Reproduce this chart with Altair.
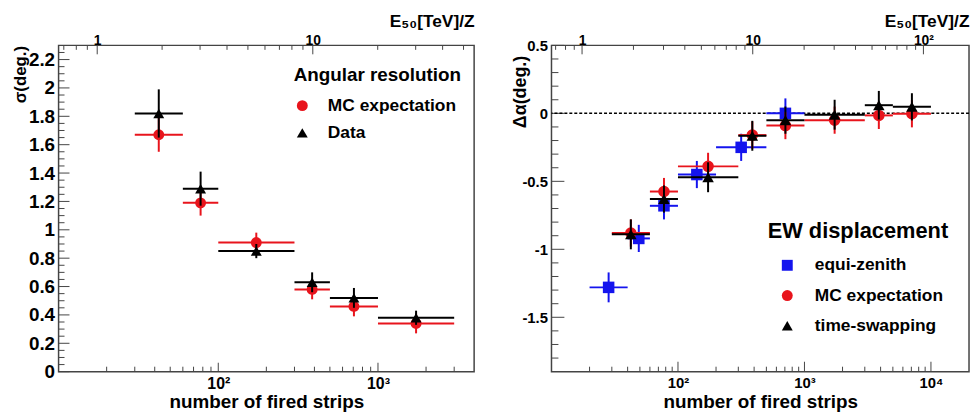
import altair as alt
import pandas as pd

# ---------------- Left panel: angular resolution ----------------
L_x = [42.4, 77.5, 173, 387, 707, 1732]
L_xlo = [30, 60, 100, 300, 500, 1000]
L_xhi = [60, 100, 300, 500, 1000, 3000]
L_mc_y = [1.67, 1.19, 0.91, 0.58, 0.46, 0.34]
L_mc_err = [0.12, 0.09, 0.07, 0.07, 0.07, 0.07]
L_data_y = [1.82, 1.29, 0.85, 0.63, 0.52, 0.38]
L_data_err = [0.17, 0.12, 0.05, 0.07, 0.07, 0.05]

# ---------------- Right panel: EW displacement ----------------
R_eq_x = [28.3, 49, 77.5, 141, 316, 707]
R_eq_xlo = [20, 40, 60, 100, 200, 500]
R_eq_xhi = [40, 60, 100, 200, 500, 1000]
R_eq_y = [-1.28, -0.92, -0.68, -0.45, -0.25, 0.0]
R_eq_err = [0.11, 0.10, 0.10, 0.10, 0.10, 0.11]

R_x = [42.4, 77.5, 173, 387, 707, 1732, 3873, 7071]
R_xlo = [30, 60, 100, 300, 500, 1000, 3000, 5000]
R_xhi = [60, 100, 300, 500, 1000, 3000, 5000, 10000]
R_mc_y = [-0.88, -0.575, -0.39, -0.16, -0.09, -0.05, -0.015, -0.003]
R_mc_err = [0.10, 0.10, 0.10, 0.10, 0.10, 0.10, 0.10, 0.10]
R_ts_y = [-0.89, -0.63, -0.47, -0.165, -0.05, -0.01, 0.06, 0.048]
R_ts_err = [0.11, 0.10, 0.11, 0.11, 0.10, 0.11, 0.105, 0.10]

# ---------------- Axis ticks / labels ----------------
L_bottom_major = [100, 1000]
L_bottom_labels = ["10²", "10³"]
L_bottom_minor = [20, 30, 40, 50, 60, 70, 80, 90, 200, 300, 400, 500, 600, 700, 800, 900, 2000, 3000]
L_left_major = [0, 0.2, 0.4, 0.6, 0.8, 1, 1.2, 1.4, 1.6, 1.8, 2, 2.2]
L_left_minor = [0.05, 0.1, 0.15, 0.25, 0.3, 0.35, 0.45, 0.5, 0.55, 0.65, 0.7, 0.75,
                0.85, 0.9, 0.95, 1.05, 1.1, 1.15, 1.25, 1.3, 1.35, 1.45, 1.5, 1.55,
                1.65, 1.7, 1.75, 1.85, 1.9, 1.95, 2.05, 2.1, 2.15, 2.25]
L_top_major = [1, 10]
L_top_labels = ["1", "10"]
L_top_minor = [0.7, 0.8, 0.9, 2, 3, 4, 5, 6, 7, 8, 9, 20, 30, 40, 50]

R_bottom_major = [100, 1000, 10000]
R_bottom_labels = ["10²", "10³", "10⁴"]
R_bottom_minor = [20, 30, 40, 50, 60, 70, 80, 90, 200, 300, 400, 500, 600, 700, 800, 900,
                  2000, 3000, 4000, 5000, 6000, 7000, 8000, 9000]
R_left_major = [-1.5, -1, -0.5, 0, 0.5]
R_left_minor = [-1.8, -1.7, -1.6, -1.4, -1.3, -1.2, -1.1, -0.9, -0.8, -0.7, -0.6,
                -0.4, -0.3, -0.2, -0.1, 0.1, 0.2, 0.3, 0.4]
R_top_major = [1, 10, 100]
R_top_labels = ["1", "10", "10²"]
R_top_minor = [0.7, 0.8, 0.9, 2, 3, 4, 5, 6, 7, 8, 9, 20, 30, 40, 50, 60, 70, 80, 90]

RED = "#e8141c"
BLUE = "#1414ee"
BLACK = "#000000"
FRAME = "#444444"
FONT = "Liberation Sans"


def series_df(name, x, xlo, xhi, y, err):
    return pd.DataFrame({
        "series": name, "x": x, "xlo": xlo, "xhi": xhi, "y": y,
        "ylo": [a - b for a, b in zip(y, err)],
        "yhi": [a + b for a, b in zip(y, err)],
    })


def label_expr(values, labels):
    expr = "''"
    for v, l in reversed(list(zip(values, labels))):
        expr = f"datum.value == {v} ? '{l}' : ({expr})"
    return expr


def panel(series, W, H, xdom, edom, ydom, bmaj, blab, bmin, lmaj, lmin, tmaj, tlab, tmin,
          ytitle, ytitle_x, ytitle_y, ylab_size, blab_size, tlab_size,
          legend, msize, tick_len, zero_line=False):
    xscale = alt.Scale(type="log", domain=xdom, nice=False)
    yscale = alt.Scale(domain=ydom, nice=False, zero=False)
    xaxis = alt.Axis(orient="bottom", values=bmaj, labelExpr=label_expr(bmaj, blab),
                     labelFontSize=blab_size, labelPadding=4,
                     title="number of fired strips", titleFontSize=19,
                     titleX=W / 2, titleY=36, titleAlign="center", titleBaseline="alphabetic")
    yaxis = alt.Axis(orient="left", values=lmaj, labelExpr="datum.value + ''",
                     labelFontSize=ylab_size, labelPadding=4,
                     title=ytitle, titleFontSize=17 if ylab_size > 16 else 18,
                     titleAngle=270, titleAlign="right", titleBaseline="middle",
                     titleX=ytitle_x, titleY=ytitle_y)

    def X(f):
        return alt.X(f, type="quantitative", scale=xscale, axis=xaxis)

    def Y(f):
        return alt.Y(f, type="quantitative", scale=yscale, axis=yaxis)

    names = [s[0] for s in series]
    cscale = alt.Scale(domain=names, range=[s[1] for s in series])
    sscale = alt.Scale(domain=names, range=[s[2] for s in series])

    layers = []
    bmj, bmn, lmj, lmn, tmj, tmn = tick_len
    layers.append(alt.Chart(pd.DataFrame({"v": bmin})).mark_rule(color=FRAME, strokeWidth=1)
                  .encode(x=X("v"), y=alt.value(H), y2=alt.value(H - bmn)))
    layers.append(alt.Chart(pd.DataFrame({"v": bmaj})).mark_rule(color=FRAME, strokeWidth=1)
                  .encode(x=X("v"), y=alt.value(H), y2=alt.value(H - bmj)))
    layers.append(alt.Chart(pd.DataFrame({"v": lmin})).mark_rule(color=FRAME, strokeWidth=1)
                  .encode(y=Y("v"), x=alt.value(0), x2=alt.value(lmn)))
    layers.append(alt.Chart(pd.DataFrame({"v": lmaj})).mark_rule(color=FRAME, strokeWidth=1)
                  .encode(y=Y("v"), x=alt.value(0), x2=alt.value(lmj)))
    if zero_line:
        layers.append(alt.Chart(pd.DataFrame({"v": [0]}))
                      .mark_rule(color=BLACK, strokeWidth=1.5, strokeDash=[3, 2])
                      .encode(y=Y("v")))

    for name, color, shape, df in series:
        layers.append(alt.Chart(df).mark_rule(color=color, strokeWidth=2)
                      .encode(x=X("xlo"), x2=alt.X2("xhi"), y=Y("y")))
        layers.append(alt.Chart(df).mark_rule(color=color, strokeWidth=2)
                      .encode(x=X("x"), y=Y("ylo"), y2=alt.Y2("yhi")))
        layers.append(alt.Chart(df).mark_point(filled=True, size=msize, opacity=1, strokeWidth=0)
                      .encode(x=X("x"), y=Y("y"),
                              color=alt.Color("series:N", scale=cscale, legend=legend),
                              shape=alt.Shape("series:N", scale=sscale, legend=legend)))
    main = alt.layer(*layers)

    escale = alt.Scale(type="log", domain=edom, nice=False)
    taxis = alt.Axis(orient="top", values=tmaj, labelExpr=label_expr(tmaj, tlab),
                     labelFontSize=tlab_size, labelPadding=1, labelBaseline="alphabetic",
                     title="E₅₀[TeV]/Z", titleFontSize=17.5, titleX=W, titleY=-19,
                     titleAlign="right", titleBaseline="alphabetic")
    top = alt.layer(
        alt.Chart(pd.DataFrame({"v": tmin})).mark_rule(color=FRAME, strokeWidth=1)
        .encode(x=alt.X("v:Q", scale=escale, axis=taxis), y=alt.value(0), y2=alt.value(tmn)),
        alt.Chart(pd.DataFrame({"v": tmaj})).mark_rule(color=FRAME, strokeWidth=1)
        .encode(x=alt.X("v:Q", scale=escale, axis=taxis), y=alt.value(0), y2=alt.value(tmj)),
    )
    return alt.layer(main, top).resolve_scale(x="independent").properties(width=W, height=H)


left_series = [
    ("MC expectation", RED, "circle", series_df("MC expectation", L_x, L_xlo, L_xhi, L_mc_y, L_mc_err)),
    ("Data", BLACK, "triangle-up", series_df("Data", L_x, L_xlo, L_xhi, L_data_y, L_data_err)),
]
right_series = [
    ("equi-zenith", BLUE, "square", series_df("equi-zenith", R_eq_x, R_eq_xlo, R_eq_xhi, R_eq_y, R_eq_err)),
    ("MC expectation", RED, "circle", series_df("MC expectation", R_x, R_xlo, R_xhi, R_mc_y, R_mc_err)),
    ("time-swapping", BLACK, "triangle-up", series_df("time-swapping", R_x, R_xlo, R_xhi, R_ts_y, R_ts_err)),
]

left_legend = alt.Legend(orient="none", legendX=237, legendY=21, title="Angular resolution",
                         titleFontSize=19, titleFontWeight="bold", titleColor="black",
                         labelFontSize=17.5, labelFontWeight="bold", labelColor="black",
                         symbolSize=121, symbolStrokeWidth=0, labelOffset=17, rowPadding=8.5,
                         titlePadding=12, padding=0, titleLimit=400, labelLimit=400)
right_legend = alt.Legend(orient="none", legendX=218, legendY=177, title="EW displacement",
                          titleFontSize=22, titleFontWeight="bold", titleColor="black",
                          labelFontSize=17.5, labelFontWeight="bold", labelColor="black",
                          symbolSize=121, symbolStrokeWidth=0, symbolOffset=11, labelOffset=19,
                          rowPadding=11.5, titlePadding=14, padding=0, titleLimit=400, labelLimit=400)

left = panel(left_series, 419, 329, [10, 4000], [0.662, 56], [0, 2.3],
             L_bottom_major, L_bottom_labels, L_bottom_minor, L_left_major, L_left_minor,
             L_top_major, L_top_labels, L_top_minor,
             "σ(deg.)", -38, 0, 19, 16, 14, left_legend, 121, (9, 5, 11, 6, 9, 4.5))
right = panel(right_series, 421, 329, [10, 20000], [0.662, 185], [-1.9, 0.5],
              R_bottom_major, R_bottom_labels, R_bottom_minor, R_left_major, R_left_minor,
              R_top_major, R_top_labels, R_top_minor,
              "Δα(deg.)", -31, 10, 15, 15, 14, right_legend, 135, (10, 5, 13, 7, 9, 4.5),
              zero_line=True)

chart = (
    alt.hconcat(left, right, spacing=36)
    .resolve_scale(x="independent", y="independent", color="independent", shape="independent")
    .properties(padding={"left": 3, "top": 2, "right": 0, "bottom": 0})
    .configure(font=FONT)
    .configure_view(stroke=FRAME, strokeWidth=1.5)
    .configure_axis(grid=False, domain=False, ticks=False, labelFontWeight="bold",
                    titleFontWeight="bold", labelColor="black", titleColor="black",
                    labelFlush=False, labelOverlap=False, labelFont=FONT, titleFont=FONT)
    .configure_legend(labelFont=FONT, titleFont=FONT)
)

chart.save("out.html", embed_options={"renderer": "svg", "actions": False})
